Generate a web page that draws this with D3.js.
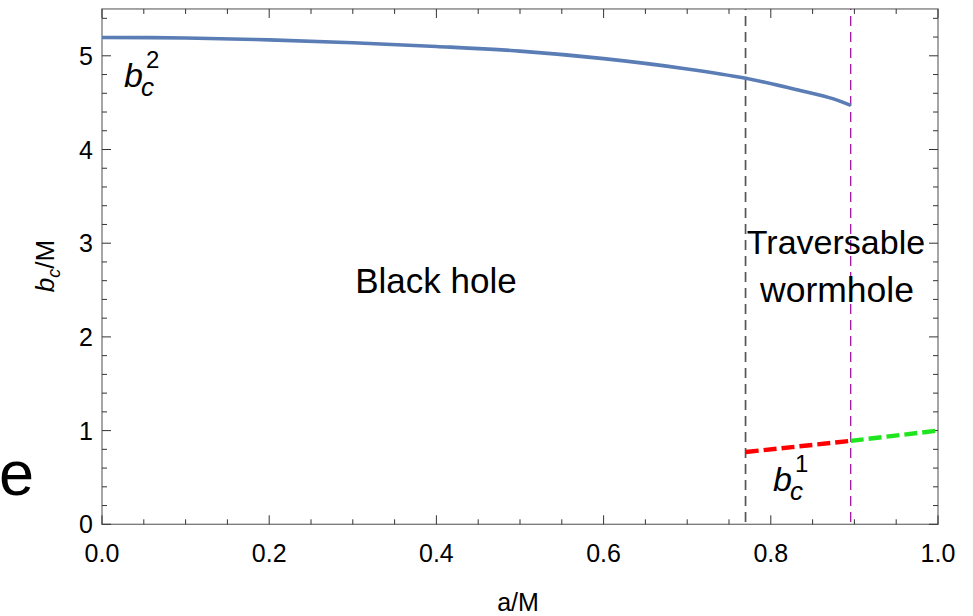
<!DOCTYPE html>
<html>
<head>
<meta charset="utf-8">
<script src="https://cdn.jsdelivr.net/npm/d3@7"></script>
<style>
  html, body { margin: 0; padding: 0; background: #fff; }
  svg { display: block; }
  text { font-family: "Liberation Sans", Arial, sans-serif; fill: #000; }
</style>
</head>
<body>
<svg id="chart" width="973" height="616"></svg>
<script>
// Critical impact parameter b_c/M against a/M
const upperA   = [0, 0.1, 0.2, 0.3, 0.4, 0.5, 0.6, 0.7, 0.77, 0.835, 0.875, 0.8956];
const upperB   = [5.196, 5.19, 5.17, 5.14, 5.10, 5.05, 4.97, 4.86, 4.76, 4.63, 4.54, 4.47];
const lowerRedA   = [0.77, 0.8956];
const lowerRedB   = [0.772, 0.89];
const lowerGreenA = [0.8956, 1.0];
const lowerGreenB = [0.89, 1.0];
const boundaryA = [0.7698, 0.8956];   // black hole / wormhole thresholds
const xTicks = [0, 0.2, 0.4, 0.6, 0.8, 1.0];
const yTicks = [0, 1, 2, 3, 4, 5];

const svg = d3.select("#chart");
const L = 102, R = 938, B = 524.3;
const x = d3.scaleLinear().domain([0, 1]).range([L, R]);
const y = d3.scaleLinear().domain([0, 5.5]).range([B, B - 5.5 * 93.7]);

// frame
svg.append("rect").attr("x", L).attr("y", y(5.5)).attr("width", R - L).attr("height", B - y(5.5))
  .attr("fill", "none").attr("stroke", "#777").attr("stroke-width", 1.3);

// ticks: major with labels, minor unlabeled, mirrored on opposite sides
const tickColor = "#333";
const xMinor = d3.range(0, 1.0001, 0.05);
const yMinor = d3.range(0, 5.5001, 0.2);
function isMajorX(v) { return Math.abs(v * 5 - Math.round(v * 5)) < 1e-6; }
function isMajorY(v) { return Math.abs(v - Math.round(v)) < 1e-6; }
const g = svg.append("g").attr("stroke", tickColor).attr("stroke-width", 1);
xMinor.forEach(v => {
  const len = isMajorX(v) ? 9 : 5;
  g.append("line").attr("x1", x(v)).attr("x2", x(v)).attr("y1", B).attr("y2", B - len);
  g.append("line").attr("x1", x(v)).attr("x2", x(v)).attr("y1", y(5.5)).attr("y2", y(5.5) + len);
});
yMinor.forEach(v => {
  const len = isMajorY(v) ? 9 : 5;
  g.append("line").attr("y1", y(v)).attr("y2", y(v)).attr("x1", L).attr("x2", L + len);
  g.append("line").attr("y1", y(v)).attr("y2", y(v)).attr("x1", R).attr("x2", R - len);
});

// tick labels
svg.append("g").selectAll("text").data(xTicks).join("text")
  .attr("x", d => x(d)).attr("y", 562).attr("text-anchor", "middle")
  .attr("font-size", 25).text(d => d.toFixed(1));
svg.append("g").selectAll("text").data(yTicks).join("text")
  .attr("x", 93).attr("y", d => y(d) + 9).attr("text-anchor", "end")
  .attr("font-size", 25).text(d => d);

// axis titles
svg.append("text").attr("x", 518).attr("y", 611).attr("text-anchor", "middle")
  .attr("font-size", 25).text("a/M");
const yl = svg.append("text").attr("transform", "translate(54,266) rotate(-90)")
  .attr("text-anchor", "middle").attr("font-size", 26);
yl.append("tspan").attr("font-style", "italic").text("b");
yl.append("tspan").attr("font-style", "italic").attr("font-size", 18).attr("dy", 6).text("c");
yl.append("tspan").attr("dy", -6).text("/M");

// threshold lines
svg.append("line").attr("x1", x(boundaryA[0])).attr("x2", x(boundaryA[0]))
  .attr("y1", y(5.5)).attr("y2", B).attr("stroke", "#555").attr("stroke-width", 1.7)
  .attr("stroke-dasharray", "10,6").attr("stroke-dashoffset", -7);
svg.append("line").attr("x1", x(boundaryA[1])).attr("x2", x(boundaryA[1]))
  .attr("y1", y(5.5)).attr("y2", B).attr("stroke", "#990099").attr("stroke-width", 1.2)
  .attr("stroke-dasharray", "10,6").attr("stroke-dashoffset", -7);

// curves
const line = d3.line().x(d => x(d[0])).y(d => y(d[1])).curve(d3.curveCatmullRom.alpha(0.5));
svg.append("path").datum(d3.zip(upperA, upperB)).attr("d", line)
  .attr("fill", "none").attr("stroke", "#5b7db5").attr("stroke-width", 3.6);
svg.append("path").datum(d3.zip(lowerRedA, lowerRedB)).attr("d", line)
  .attr("fill", "none").attr("stroke", "#ff0000").attr("stroke-width", 4.4)
  .attr("stroke-dasharray", "13,5");
svg.append("path").datum(d3.zip(lowerGreenA, lowerGreenB)).attr("d", line)
  .attr("fill", "none").attr("stroke", "#1fe51f").attr("stroke-width", 4.4)
  .attr("stroke-dasharray", "13,5");

// region labels
svg.append("text").attr("x", 436).attr("y", 293).attr("text-anchor", "middle")
  .attr("font-size", 35).text("Black hole");
svg.append("text").attr("x", 836).attr("y", 254).attr("text-anchor", "middle")
  .attr("font-size", 34).text("Traversable");
svg.append("text").attr("x", 837).attr("y", 302).attr("text-anchor", "middle")
  .attr("font-size", 35.5).text("wormhole");

// curve labels: base symbol, subscript and superscript set as separate pieces
function bLabel(px, py, idx) {
  svg.append("text").attr("x", px).attr("y", py).attr("font-size", 34)
    .attr("font-style", "italic").text("b");
  svg.append("text").attr("x", px + 17).attr("y", py + 9).attr("font-size", 26)
    .attr("font-style", "italic").text("c");
  svg.append("text").attr("x", px + 22).attr("y", py - 19).attr("font-size", 24).text(idx);
}
bLabel(124, 87, "2");
bLabel(773, 491, "1");

// panel letter
svg.append("text").attr("x", -1).attr("y", 495).attr("font-size", 63).text("e");
</script>
</body>
</html>
